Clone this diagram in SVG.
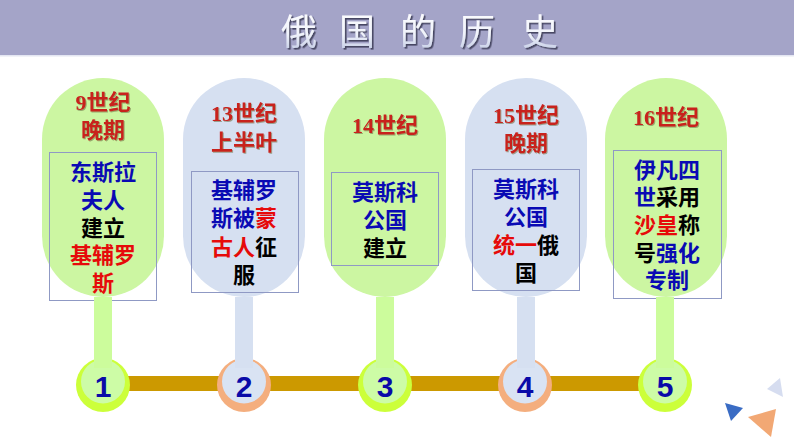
<svg xmlns="http://www.w3.org/2000/svg" width="794" height="447" viewBox="0 0 794 447">
<defs>
<linearGradient id="tg" x1="0" y1="0" x2="0" y2="1">
<stop offset="0" stop-color="#ffffff"/>
<stop offset="0.6" stop-color="#f0f3fb"/>
<stop offset="1" stop-color="#b9c3e0"/>
</linearGradient>
<filter id="tsh" x="-20%" y="-20%" width="140%" height="140%">
<feDropShadow dx="1.6" dy="1.6" stdDeviation="0.6" flood-color="#2a2a40" flood-opacity="0.75"/>
</filter>
<filter id="hsh" x="-20%" y="-20%" width="140%" height="140%">
<feDropShadow dx="1" dy="1" stdDeviation="0.5" flood-color="#6b6b40" flood-opacity="0.55"/>
</filter>
</defs>
<style>
.pg{fill:#ccf6a2}
.pb{fill:#d6e0f1}
.sg{fill:#ccfc9c}
.sb{fill:#d6e0f1}
.og{fill:#ccff3a}
.ob{fill:#f4ae7e}
.ig{fill:#cdfca6}
.ib{fill:#d9e3f3}
.box{fill:none;stroke:#8f99c4;stroke-width:1}
.hd{font-family:"Liberation Serif","Noto Sans CJK SC",serif;font-size:22px;font-weight:bold;fill:#c8201e;text-anchor:middle;filter:url(#hsh)}
.bd{font-family:"Liberation Sans","Noto Sans CJK SC",sans-serif;font-size:22px;font-weight:bold;text-anchor:middle;fill:#000}
.bl{fill:#0a0ab4}
.rd{fill:#e60a0a}
.num{font-family:"Liberation Sans",Arial,sans-serif;font-size:30px;font-weight:bold;fill:#0a0aa8;text-anchor:middle}
.title{font-family:"Noto Sans CJK SC",sans-serif;font-size:36px;font-weight:400;fill:url(#tg);text-anchor:middle;filter:url(#tsh)}
</style>
<rect width="794" height="447" fill="#ffffff"/>
<g id="title-bar">
<rect x="0" y="0" width="794" height="55" fill="#a4a4c8"/>
<rect x="0" y="55" width="794" height="1.5" fill="#e4e6f2"/>
<text class="title" x="299 357 418 477 540" y="45">俄国的历史</text>
</g>
<g id="connectors">
<rect x="103" y="376" width="563" height="15" fill="#cc9900"/>
</g>
<g id="node-1">
<rect class="pg" x="42" y="78" width="122" height="219" rx="61"/>
<rect class="box" x="49.5" y="152.5" width="107" height="148"/>
<text class="hd" x="103" y="110">9世纪</text>
<text class="hd" x="103" y="138">晚期</text>
<text class="bd" x="103" y="180"><tspan class="bl">东斯拉</tspan></text>
<text class="bd" x="103" y="208"><tspan class="bl">夫人</tspan></text>
<text class="bd" x="103" y="236">建立</text>
<text class="bd" x="103" y="263"><tspan class="rd">基辅罗</tspan></text>
<text class="bd" x="103" y="291"><tspan class="rd">斯</tspan></text>
<circle class="og" cx="103" cy="385" r="27"/>
<circle class="ig" cx="103" cy="381.5" r="22"/>
<rect class="sg" x="94" y="297" width="18" height="71"/>
<text class="num" x="103" y="397">1</text>
</g>
<g id="node-2">
<rect class="pb" x="183" y="78" width="122" height="219" rx="61"/>
<rect class="box" x="191.5" y="171.5" width="107" height="121"/>
<text class="hd" x="244" y="121">13世纪</text>
<text class="hd" x="244" y="150">上半叶</text>
<text class="bd" x="244" y="198"><tspan class="bl">基辅罗</tspan></text>
<text class="bd" x="244" y="226"><tspan class="bl">斯被</tspan><tspan class="rd">蒙</tspan></text>
<text class="bd" x="244" y="255"><tspan class="rd">古人</tspan>征</text>
<text class="bd" x="244" y="283">服</text>
<circle class="ob" cx="244" cy="385" r="27"/>
<circle class="ib" cx="244" cy="381.5" r="22"/>
<rect class="sb" x="235" y="297" width="18" height="71"/>
<text class="num" x="244" y="397">2</text>
</g>
<g id="node-3">
<rect class="pg" x="324" y="78" width="122" height="219" rx="61"/>
<rect class="box" x="331.5" y="172.5" width="107" height="93"/>
<text class="hd" x="385" y="133">14世纪</text>
<text class="bd" x="385" y="200"><tspan class="bl">莫斯科</tspan></text>
<text class="bd" x="385" y="228"><tspan class="bl">公国</tspan></text>
<text class="bd" x="385" y="256">建立</text>
<circle class="og" cx="385" cy="385" r="27"/>
<circle class="ig" cx="385" cy="381.5" r="22"/>
<rect class="sg" x="376" y="297" width="18" height="71"/>
<text class="num" x="385" y="397">3</text>
</g>
<g id="node-4">
<rect class="pb" x="465" y="78" width="122" height="219" rx="61"/>
<rect class="box" x="472.5" y="169.5" width="107" height="121"/>
<text class="hd" x="526" y="123">15世纪</text>
<text class="hd" x="526" y="151">晚期</text>
<text class="bd" x="526" y="197"><tspan class="bl">莫斯科</tspan></text>
<text class="bd" x="526" y="225"><tspan class="bl">公国</tspan></text>
<text class="bd" x="526" y="253"><tspan class="rd">统一</tspan>俄</text>
<text class="bd" x="526" y="281">国</text>
<circle class="ob" cx="525" cy="385" r="27"/>
<circle class="ib" cx="525" cy="381.5" r="22"/>
<rect class="sb" x="517" y="297" width="18" height="71"/>
<text class="num" x="525" y="397">4</text>
</g>
<g id="node-5">
<rect class="pg" x="605" y="78" width="122" height="219" rx="61"/>
<rect class="box" x="613.5" y="150.5" width="108" height="148"/>
<text class="hd" x="666" y="125">16世纪</text>
<text class="bd" x="667" y="178"><tspan class="bl">伊凡四</tspan></text>
<text class="bd" x="667" y="205"><tspan class="bl">世</tspan>采用</text>
<text class="bd" x="667" y="233"><tspan class="rd">沙皇</tspan>称</text>
<text class="bd" x="667" y="261">号<tspan class="bl">强化</tspan></text>
<text class="bd" x="667" y="288"><tspan class="bl">专制</tspan></text>
<circle class="og" cx="665" cy="385" r="27"/>
<circle class="ig" cx="665" cy="381.5" r="22"/>
<rect class="sg" x="656" y="297" width="18" height="71"/>
<text class="num" x="665" y="397">5</text>
</g>
<g id="decor">
<polygon points="767,389 780,378 783,397" fill="#d6ddf0"/>
<polygon points="725,403 743,408 731,421" fill="#3a6cc4"/>
<polygon points="748,417 776,409 771,437" fill="#f2a874"/>
</g>
</svg>
